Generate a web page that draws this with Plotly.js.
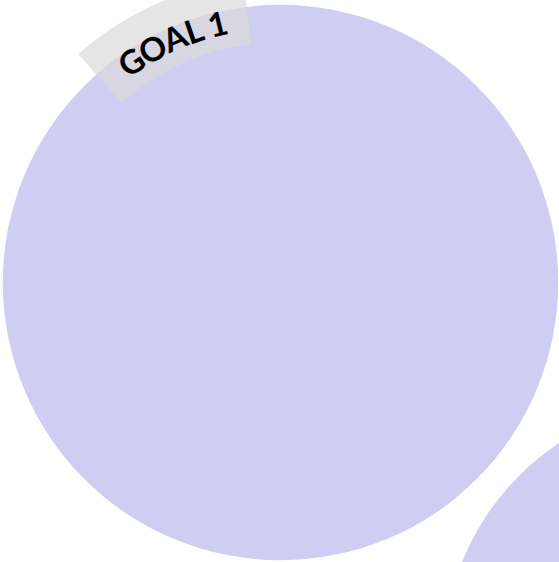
<!DOCTYPE html>
<html>
<head>
<meta charset="utf-8">
<script src="https://cdn.plot.ly/plotly-3.0.1.min.js"></script>
<style>html,body{margin:0;padding:0;background:#fff;}#chart{width:559px;height:562px;}</style>
</head>
<body>
<div id="chart"></div>
<script>
// ---- data ----
const circleNames = ["GOAL 1", "GOAL 2"];
const circleCx = [280.5, 702];
const circleCy = [282.5, 658.5];
const circleR = [277.7, 258.6];
const labelTexts = ["GOAL 1"];

// ---- style / layout ----
const circleColor = "#cfcdf1";
const bandColor = "rgba(218,218,218,0.7)";
const bandInner = 240, bandOuter = 305;      // px from centre
const bandFrom = 7, bandTo = 41.5;           // degrees left of top
const textR = 267, textMid = 23.8, textSpan = 95;
const fontFamily = "Lato", fontSize = 33;

const W = 559, H = 562;
const rad = d => d * Math.PI / 180;

function polar(cx, cy, r, phiDeg) {
  return [cx - r * Math.sin(rad(phiDeg)), cy - r * Math.cos(rad(phiDeg))];
}

const shapes = [];
circleNames.forEach((n, i) => {
  shapes.push({
    type: "circle", xref: "x", yref: "y",
    x0: circleCx[i] - circleR[i], x1: circleCx[i] + circleR[i],
    y0: circleCy[i] - circleR[i], y1: circleCy[i] + circleR[i],
    fillcolor: circleColor, line: {width: 0}, layer: "below"
  });
});

// label band for first circle
const cx = circleCx[0], cy = circleCy[0];
let pts = [];
const N = 40;
for (let k = 0; k <= N; k++) {
  const a = bandFrom + (bandTo - bandFrom) * k / N;
  pts.push(polar(cx, cy, bandOuter, a));
}
for (let k = N; k >= 0; k--) {
  const a = bandFrom + (bandTo - bandFrom) * k / N;
  pts.push(polar(cx, cy, bandInner, a));
}
const path = "M" + pts.map(p => p[0].toFixed(2) + "," + p[1].toFixed(2)).join(" L") + " Z";
shapes.push({type: "path", xref: "x", yref: "y", path: path, fillcolor: bandColor, line: {width: 0}, layer: "above"});

// curved text, one annotation per glyph
const ctx = document.createElement("canvas").getContext("2d");
ctx.font = "bold " + fontSize + "px " + fontFamily;
const text = labelTexts[0];
const chars = text.split("");
const adv = chars.map(c => ctx.measureText(c).width);
let centers = [], acc = 0;
adv.forEach(w => { centers.push(acc + w / 2); acc += w; });
const natural = centers[centers.length - 1] - centers[0];
const extra = (textSpan - natural) / (chars.length - 1);
centers = centers.map((c, i) => c + extra * i);
const mid = (centers[0] + centers[centers.length - 1]) / 2;
const annotations = [];
chars.forEach((c, i) => {
  if (c === " ") return;
  const s = centers[i] - mid;               // arc length from middle
  const phi = textMid - (s / textR) * 180 / Math.PI;
  const p = polar(cx, cy, textR, phi);
  annotations.push({
    x: p[0], y: p[1], xref: "x", yref: "y", text: c, showarrow: false,
    textangle: -phi, xanchor: "center", yanchor: "middle",
    font: {family: fontFamily, size: fontSize, color: "#000", weight: 700}
  });
});

const data = [{
  x: circleCx, y: circleCy, text: circleNames, type: "scatter", mode: "markers",
  marker: {size: 1, opacity: 0}, hoverinfo: "skip", showlegend: false
}];

const layout = {
  width: W, height: H, margin: {l: 0, r: 0, t: 0, b: 0},
  paper_bgcolor: "#fff", plot_bgcolor: "#fff",
  xaxis: {range: [0, W], visible: false, fixedrange: true},
  yaxis: {range: [H, 0], visible: false, fixedrange: true},
  shapes: shapes, annotations: annotations, showlegend: false
};
Plotly.newPlot("chart", data, layout, {displayModeBar: false, staticPlot: true});
</script>
</body>
</html>
